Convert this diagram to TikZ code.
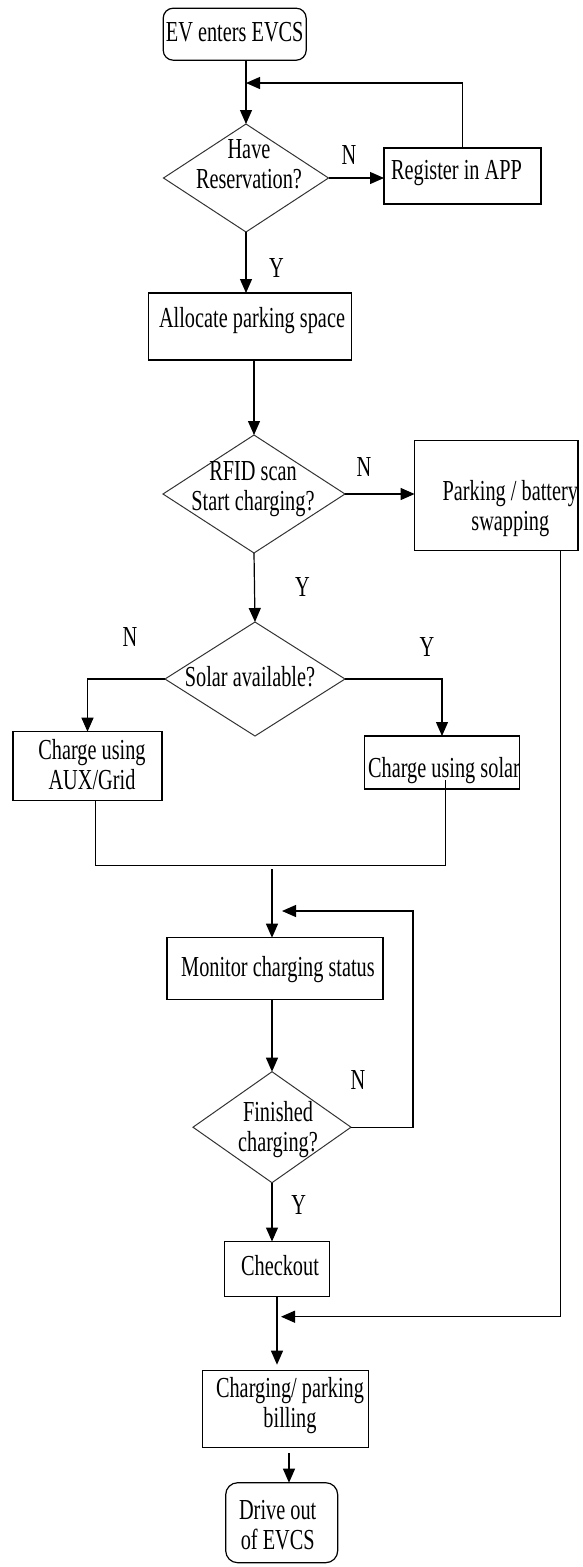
\documentclass[tikz,border=0pt]{standalone}
\usepackage{fontspec}
\setmainfont{Liberation Serif}[FakeStretch=0.7]
\usetikzlibrary{shapes.geometric,arrows.meta}
\newcommand\tx[3]{\kern#2\raisebox{\dimexpr-#3-7.25pt\relax}[0pt][0pt]{\makebox[0pt]{\begin{tabular}{@{}c@{}}#1\end{tabular}}}\kern-#2}
\begin{document}
\begin{tikzpicture}[x=1pt,y=-1pt,font=\fontsize{29}{30}\selectfont,line width=1.2pt,
  box/.style={draw,rectangle,inner sep=0pt,outer sep=0pt},
  term/.style={box,rounded corners=10pt},
  dec/.style={draw=black!80,line width=1pt,diamond,inner sep=0pt,outer sep=0pt},
  lbl/.style={inner sep=0pt},
  arr/.style={-{Triangle[length=14pt,width=12pt]}}]
\useasboundingbox (0,0) rectangle (582,1567);

\node[term,minimum width=143pt,minimum height=52pt] (start) at (234.7,34.2) {\tx{EV enters EVCS}{0pt}{0pt}};
\node[dec,minimum width=165pt,minimum height=108pt] (d1) at (246,178) {\tx{Have\\Reservation?}{3pt}{-12pt}};
\node[box,minimum width=157pt,minimum height=56pt] (reg) at (462.5,176) {\tx{Register in APP}{-6pt}{-4pt}};
\node[box,minimum width=202.5pt,minimum height=67pt] (alloc) at (250,326.5) {\tx{Allocate parking space}{2pt}{-6.5pt}};
\node[dec,minimum width=182pt,minimum height=118pt] (d2) at (254,494) {\tx{RFID scan\\Start charging?}{-1pt}{-6pt}};
\node[box,minimum width=163.4pt,minimum height=110pt] (park) at (496.3,495.7) {\tx{Parking / battery\\swapping}{14pt}{13pt}};
\node[dec,minimum width=180pt,minimum height=114pt] (d3) at (255,679) {\tx{Solar available?}{-5pt}{0pt}};
\node[box,minimum width=149pt,minimum height=69pt] (aux) at (87.5,766.2) {\tx{Charge using\\AUX/Grid}{4.5pt}{1pt}};
\node[box,minimum width=155pt,minimum height=53pt] (solar) at (442,762.5) {\tx{Charge using solar}{2pt}{7.5pt}};
\node[box,minimum width=216pt,minimum height=61.6pt] (mon) at (275,968.5) {\tx{Monitor charging status}{3pt}{1pt}};
\node[dec,minimum width=158pt,minimum height=111pt] (d4) at (272,1127.2) {\tx{Finished\\charging?}{6pt}{2pt}};
\node[box,minimum width=105pt,minimum height=55pt] (chk) at (277,1269) {\tx{Checkout}{3pt}{-1pt}};
\node[box,minimum width=166pt,minimum height=76.6pt] (bill) at (285.5,1409) {\tx{Charging/ parking\\billing}{4.5pt}{-4pt}};
\node[term,rounded corners=12pt,minimum width=112pt,minimum height=80pt] (drive) at (281.7,1522.7) {\tx{Drive out\\of EVCS}{-4pt}{5pt}};

\node[lbl] (n1) at (349,155) {N};
\node[lbl] (y1) at (276.5,268) {Y};
\node[lbl] (n2) at (364,467) {N};
\node[lbl] (y2) at (302.5,587) {Y};
\node[lbl] (n3) at (130,636.7) {N};
\node[lbl] (y3) at (427,646.7) {Y};
\node[lbl] (n4) at (358,1080) {N};
\node[lbl] (y4) at (298.8,1205) {Y};

\coordinate (j1) at (246,83);
\coordinate (mL) at (95.4,865.7);
\coordinate (mR) at (445.4,865.7);
\coordinate (mT) at (445.4,780);
\coordinate (mC) at (272,869);
\coordinate (lR) at (413,911);
\coordinate (lE) at (282,911);
\coordinate (pR) at (560.5,1316.7);
\coordinate (pE) at (281,1316.7);
\coordinate (b1) at (289,1453);

\draw[arr] (start.south -| d1.north) -- (d1.north);
\draw[arr] (reg.north) |- (j1);
\draw[arr] (d1.east) -- (d1.east -| reg.west);
\draw[arr] (d1.south) -- (d1.south |- alloc.north);
\draw[arr] (alloc.south -| d2.north) -- (d2.north);
\draw[arr] (d2.east) -- (d2.east -| park.west);
\draw[arr] (d2.south) -- (d3.north);
\draw[arr] (d3.west) -| (aux.north);
\draw[arr] (d3.east) -| (solar.north);
\draw (aux.south -| mL) -- (mL) -- (mR) -- (mT);
\draw[arr] (mC) -- (mC |- mon.north);
\draw[arr] (d4.east) -| (lR) -- (lE);
\draw[arr] (mon.south -| d4.north) -- (d4.north);
\draw[arr] (d4.south) -- (d4.south |- chk.north);
\draw[arr,shorten >=6pt] (chk.south) -- (chk.south |- bill.north);
\draw[arr] (park.south -| pR) -- (pR) -- (pE);
\draw[arr] (b1) -- (b1 |- drive.north);
\end{tikzpicture}
\end{document}
